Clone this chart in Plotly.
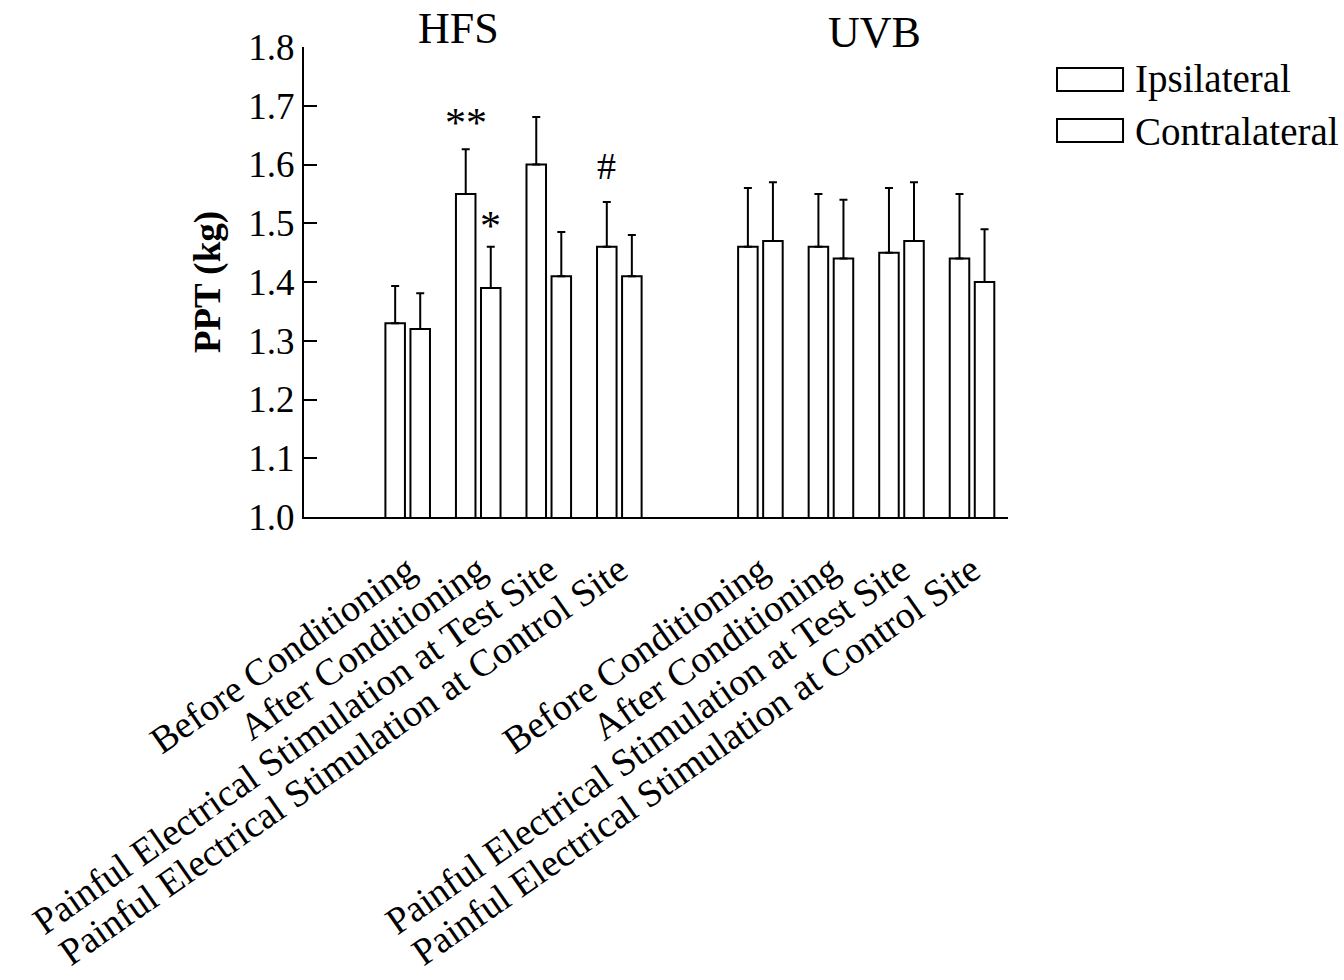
import plotly.graph_objects as go

# ---- data ----
groups = ["HFS", "UVB"]
conditions = [
    "Before Conditioning",
    "After Conditioning",
    "Painful Electrical Stimulation at Test Site",
    "Painful Electrical Stimulation at Control Site",
]
series_names = ["Ipsilateral", "Contralateral"]

hfs_ipsi = [1.33, 1.55, 1.60, 1.46]
hfs_ipsi_err = [0.063, 0.076, 0.081, 0.076]
hfs_contra = [1.32, 1.39, 1.41, 1.41]
hfs_contra_err = [0.061, 0.070, 0.075, 0.070]

uvb_ipsi = [1.46, 1.46, 1.45, 1.44]
uvb_ipsi_err = [0.10, 0.09, 0.11, 0.11]
uvb_contra = [1.47, 1.44, 1.47, 1.40]
uvb_contra_err = [0.10, 0.10, 0.10, 0.09]

y_ticks = [1.0, 1.1, 1.2, 1.3, 1.4, 1.5, 1.6, 1.7, 1.8]

# significance marks: (group index, condition index, series index, text)
sig_marks = [(0, 1, 0, "**"), (0, 1, 1, "*"), (0, 3, 0, "#")]

# ---- layout helpers ----
n = len(conditions)
gap = 1  # one empty slot between groups
positions = [i + 1 for i in range(n)] + [i + 1 + n + gap for i in range(n)]
tick_text = conditions + conditions

ipsi = hfs_ipsi + uvb_ipsi
ipsi_err = hfs_ipsi_err + uvb_ipsi_err
contra = hfs_contra + uvb_contra
contra_err = hfs_contra_err + uvb_contra_err

FONT = "Liberation Serif, Times New Roman, serif"

fig = go.Figure()
for name, vals, errs in [(series_names[0], ipsi, ipsi_err), (series_names[1], contra, contra_err)]:
    fig.add_trace(go.Bar(
        x=positions, y=vals, name=name,
        base=0,
        marker=dict(color="white", line=dict(color="black", width=2)),
        error_y=dict(type="data", array=errs, arrayminus=[0] * len(errs), symmetric=False,
                     color="black", thickness=2, width=4),
        showlegend=False,
    ))

fig.update_layout(
    width=1344, height=980,
    margin=dict(l=304, r=336, t=47, b=463),
    paper_bgcolor="white", plot_bgcolor="white",
    barmode="group", bargap=0.29, bargroupgap=0.22,
    font=dict(family=FONT, color="black", size=36),
    xaxis=dict(
        range=[-0.47, 9.51], tickmode="array", tickvals=positions, ticktext=tick_text,
        tickangle=-35, showline=True, linecolor="black", linewidth=2,
        ticks="", showgrid=False, zeroline=False, ticklabelstandoff=14,
        automargin=False,
        tickfont=dict(family=FONT, size=38, color="black"),
    ),
    yaxis=dict(
        range=[1.0, 1.8], tickmode="array", tickvals=y_ticks,
        ticktext=[f"{v:.1f}" for v in y_ticks],
        showline=True, linecolor="black", linewidth=2,
        ticks="inside", ticklen=13, tickwidth=2, tickcolor="black",
        showgrid=False, zeroline=False, automargin=False,
        tickfont=dict(family=FONT, size=37, color="black"),
        title=dict(text="<b>PPT (kg)</b>", font=dict(family=FONT, size=37, color="black"), standoff=16),
    ),
)

# group titles
for gname, px, ys in [(groups[0], 0.219, 19), (groups[1], 0.811, 15)]:
    fig.add_annotation(x=px, y=1, xref="paper", yref="paper", text=gname, showarrow=False,
                       xanchor="center", yanchor="middle", yshift=ys,
                       font=dict(family=FONT, size=44, color="black"))

# significance marks
series_vals = [(ipsi, ipsi_err), (contra, contra_err)]
offsets = [-0.177, 0.177]
shifts = {"**": 1, "*": -4, "#": 13}
for g, c, s, txt in sig_marks:
    k = g * n + c
    vals, errs = series_vals[s]
    fig.add_annotation(x=positions[k] + offsets[s], y=vals[k] + errs[k], xref="x", yref="y",
                       text=txt, showarrow=False, xanchor="center", yanchor="bottom", yshift=shifts[txt],
                       font=dict(family=FONT, size=42 if txt != "#" else 38, color="black"))

# legend drawn as boxes with labels
legend_rows = [(0.9064, 0.9553, 0.932), (0.7979, 0.8468, 0.821)]
for name, (y0, y1, yt) in zip(series_names, legend_rows):
    fig.add_shape(type="rect", xref="paper", yref="paper", x0=1.0696, x1=1.1634, y0=y0, y1=y1,
                  line=dict(color="black", width=2), fillcolor="white")
    fig.add_annotation(x=1.1776, y=yt, xref="paper", yref="paper", text=name, showarrow=False,
                       xanchor="left", yanchor="middle",
                       font=dict(family=FONT, size=39, color="black"))

fig.write_html("out.html")
